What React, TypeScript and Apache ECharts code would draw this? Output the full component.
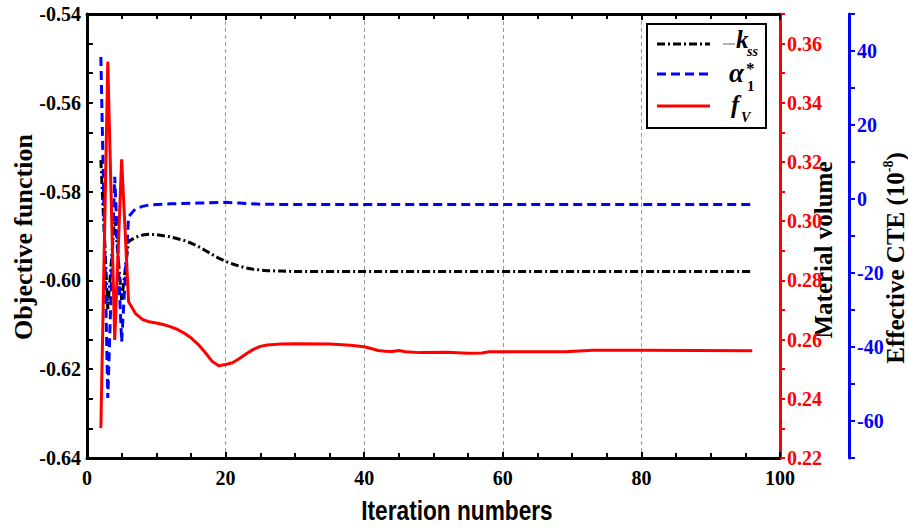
import React, { useEffect, useRef } from "react";
import * as echarts from "echarts";

// ---- Data ----
const objIter = [2, 3, 4, 5, 6, 7, 8, 9, 10, 12, 14, 15, 16, 17, 18, 19, 20, 21, 22, 23, 24, 26, 28, 30, 96];
const objValue = [-0.5729, -0.6065, -0.5855, -0.6044, -0.5912, -0.5903, -0.5898, -0.5896, -0.5897, -0.5902, -0.591, -0.5916, -0.5923, -0.5932, -0.5941, -0.595, -0.5957, -0.5963, -0.5968, -0.5972, -0.5975, -0.5978, -0.5979, -0.598, -0.598];

const cteIter = [2, 3, 4, 5, 6, 7, 8, 9, 12, 16, 20, 22, 25, 30, 96];
const cteValue = [38.4, -53.8, 6.0, -38.6, -4.8, -2.6, -2.0, -1.6, -1.3, -1.1, -0.9, -1.1, -1.4, -1.5, -1.5];

const volIter = [2, 3, 4, 5, 6, 7, 8, 9, 10, 11, 12, 13, 14, 15, 16, 17, 18, 19, 20, 21, 22, 23, 24, 25, 26, 28, 30, 35, 38, 40, 41, 42, 43, 44, 45, 46, 48, 52, 55, 57, 58, 69, 73, 80, 96];
const volValue = [0.2301, 0.3539, 0.2599, 0.3209, 0.2728, 0.2688, 0.2668, 0.266, 0.2656, 0.2651, 0.2644, 0.2635, 0.2622, 0.2606, 0.2585, 0.2558, 0.2528, 0.2512, 0.2516, 0.2522, 0.2536, 0.2552, 0.2567, 0.2577, 0.2582, 0.2585, 0.2586, 0.2585, 0.2581, 0.2576, 0.257, 0.2563, 0.2561, 0.256, 0.2563, 0.2559, 0.2556, 0.2557, 0.2554, 0.2555, 0.2559, 0.2559, 0.2564, 0.2564, 0.2562];

const xTicks = [0, 20, 40, 60, 80, 100];
const objTicks = [-0.64, -0.62, -0.6, -0.58, -0.56, -0.54];
const volTicks = [0.22, 0.24, 0.26, 0.28, 0.3, 0.32, 0.34, 0.36];
const cteTicks = [-60, -40, -20, 0, 20, 40];

const pairs = (xs: number[], ys: number[]) => xs.map((x, i) => [x, ys[i]]);

const SERIF = "'Liberation Serif', 'Times New Roman', serif";
const SANS = "'Liberation Sans', Arial, sans-serif";

export default function App() {
  const ref = useRef<HTMLDivElement>(null);
  useEffect(() => {
    if (!ref.current) return;
    const chart = echarts.init(ref.current, undefined, { renderer: "svg" });
    const labelBase = { fontFamily: SERIF, fontWeight: "bold" as const, fontSize: 20 };
    const blackLine = { lineStyle: { color: "#000", width: 3 }, onZero: false };
    const option: any = {
      animation: false,
      backgroundColor: "#fff",
      grid: { left: 87, top: 14, right: 128, bottom: 70, containLabel: false },
      xAxis: [
        {
          type: "value",
          min: xTicks[0],
          max: xTicks[xTicks.length - 1],
          interval: 20,
          position: "bottom",
          axisLine: blackLine,
          axisTick: { inside: true, length: 6, lineStyle: { color: "#000", width: 2 } },
          minorTick: { show: true, splitNumber: 4, length: 5, lineStyle: { color: "#000", width: 2 } },
          axisLabel: { ...labelBase, color: "#000", margin: 10 },
          splitLine: { show: true, lineStyle: { color: "#9a9a9a", width: 1, type: [4, 3] } },
        },
        {
          type: "value",
          min: xTicks[0],
          max: xTicks[xTicks.length - 1],
          interval: 20,
          position: "top",
          axisLine: blackLine,
          axisTick: { inside: true, length: 6, lineStyle: { color: "#000", width: 2 } },
          minorTick: { show: true, splitNumber: 4, length: 5, lineStyle: { color: "#000", width: 2 } },
          axisLabel: { show: false },
          splitLine: { show: false },
        },
      ],
      yAxis: [
        {
          type: "value",
          min: objTicks[0],
          max: objTicks[objTicks.length - 1],
          interval: 0.02,
          position: "left",
          axisLine: blackLine,
          axisTick: { inside: true, length: 6, lineStyle: { color: "#000", width: 2 } },
          minorTick: { show: true, splitNumber: 3, length: 6, lineStyle: { color: "#000", width: 2 } },
          axisLabel: { ...labelBase, color: "#000", margin: 6, formatter: (v: number) => v.toFixed(2) },
          splitLine: { show: false },
        },
        {
          type: "value",
          min: volTicks[0],
          max: 0.37,
          interval: 0.01,
          position: "right",
          axisLine: { lineStyle: { color: "#ff0000", width: 3 }, onZero: false },
          axisTick: { inside: false, length: 5, lineStyle: { color: "#ff0000", width: 2 } },
          axisLabel: {
            ...labelBase,
            color: "#ff0000",
            margin: 7,
            formatter: (v: number) => (volTicks.some((t) => Math.abs(t - v) < 1e-6) ? v.toFixed(2) : ""),
          },
          splitLine: { show: false },
        },
        {
          type: "value",
          min: -70,
          max: 50,
          interval: 10,
          position: "right",
          offset: 69,
          axisLine: { lineStyle: { color: "#0000ff", width: 3 }, onZero: false },
          axisTick: { inside: false, length: 6, lineStyle: { color: "#0000ff", width: 2 } },
          axisLabel: {
            ...labelBase,
            color: "#0000ff",
            margin: 8,
            formatter: (v: number) => (cteTicks.some((t) => Math.abs(t - v) < 1e-6) ? String(Math.round(v)) : ""),
          },
          splitLine: { show: false },
        },
      ],
      series: [
        {
          name: "-kss",
          type: "line",
          xAxisIndex: 0,
          yAxisIndex: 0,
          data: pairs(objIter, objValue),
          symbol: "none",
          lineStyle: { color: "#000", width: 3, type: [8, 3, 2, 3] },
          z: 3,
        },
        {
          name: "alpha1*",
          type: "line",
          xAxisIndex: 0,
          yAxisIndex: 2,
          data: pairs(cteIter, cteValue),
          symbol: "none",
          lineStyle: { color: "#0000ff", width: 3, type: [9, 5] },
          z: 4,
        },
        {
          name: "fV",
          type: "line",
          xAxisIndex: 0,
          yAxisIndex: 1,
          data: pairs(volIter, volValue),
          symbol: "none",
          lineStyle: { color: "#ff0000", width: 3 },
          z: 5,
        },
      ],
      graphic: [
        // axis titles
        {
          type: "text",
          x: 23,
          y: 237,
          rotation: Math.PI / 2,
          style: { text: "Objective function", font: `bold 26px ${SERIF}`, fill: "#000", align: "center", verticalAlign: "middle" },
        },
        {
          type: "text",
          x: 823,
          y: 250,
          rotation: Math.PI / 2,
          style: { text: "Material volume", font: `bold 25px ${SERIF}`, fill: "#000", align: "center", verticalAlign: "middle" },
        },
        {
          type: "text",
          x: 895,
          y: 258,
          rotation: Math.PI / 2,
          style: {
            text: "{a|Effective CTE (10}{s|-8}{a|)}",
            align: "center",
            verticalAlign: "middle",
            rich: {
              a: { fontFamily: SERIF, fontWeight: "bold", fontSize: 25, fill: "#000", lineHeight: 28 },
              s: { fontFamily: SERIF, fontWeight: "bold", fontSize: 14, fill: "#000", verticalAlign: "top", lineHeight: 28 },
            },
          },
        },
        {
          type: "text",
          x: 457,
          y: 510,
          scaleX: 0.84,
          style: { text: "Iteration numbers", font: `bold 27px ${SANS}`, fill: "#000", align: "center", verticalAlign: "middle" },
        },
        // legend
        {
          type: "rect",
          shape: { x: 647, y: 24, width: 119, height: 104 },
          style: { fill: "#fff", stroke: "#000", lineWidth: 2 },
          z: 20,
        },
        {
          type: "line",
          shape: { x1: 657, y1: 44, x2: 710, y2: 44 },
          style: { stroke: "#000", lineWidth: 3, lineDash: [8, 3, 2, 3] },
          z: 21,
        },
        {
          type: "line",
          shape: { x1: 723, y1: 44, x2: 735, y2: 44 },
          style: { stroke: "#9a9a9a", lineWidth: 1.5 },
          z: 21,
        },
        {
          type: "text",
          x: 736,
          y: 52,
          style: { text: "k", font: `italic bold 25px ${SERIF}`, fill: "#000", verticalAlign: "bottom" },
          z: 21,
        },
        {
          type: "text",
          x: 747,
          y: 58,
          style: { text: "ss", font: `italic bold 14px ${SERIF}`, fill: "#000", verticalAlign: "bottom" },
          z: 21,
        },
        {
          type: "line",
          shape: { x1: 657, y1: 74, x2: 710, y2: 74 },
          style: { stroke: "#0000ff", lineWidth: 3, lineDash: [9, 5] },
          z: 21,
        },
        {
          type: "text",
          x: 729,
          y: 86,
          style: { text: "α", font: `italic bold 27px ${SERIF}`, fill: "#000", verticalAlign: "bottom" },
          z: 21,
        },
        {
          type: "text",
          x: 747,
          y: 93,
          style: { text: "1", font: `bold 15px ${SERIF}`, fill: "#000", verticalAlign: "bottom" },
          z: 21,
        },
        {
          type: "text",
          x: 746,
          y: 77,
          style: { text: "*", font: `bold 17px ${SERIF}`, fill: "#000", verticalAlign: "bottom" },
          z: 21,
        },
        {
          type: "line",
          shape: { x1: 657, y1: 106, x2: 710, y2: 106 },
          style: { stroke: "#ff0000", lineWidth: 3 },
          z: 21,
        },
        {
          type: "text",
          x: 731,
          y: 117,
          style: { text: "f", font: `italic bold 25px ${SERIF}`, fill: "#000", verticalAlign: "bottom" },
          z: 21,
        },
        {
          type: "text",
          x: 741,
          y: 124,
          style: { text: "V", font: `italic bold 14px ${SERIF}`, fill: "#000", verticalAlign: "bottom" },
          z: 21,
        },
      ],
    };
    chart.setOption(option);
    return () => chart.dispose();
  }, []);
  return <div ref={ref} style={{ position: "fixed", left: 0, top: 0, width: 908, height: 528, background: "#fff" }} />;
}
